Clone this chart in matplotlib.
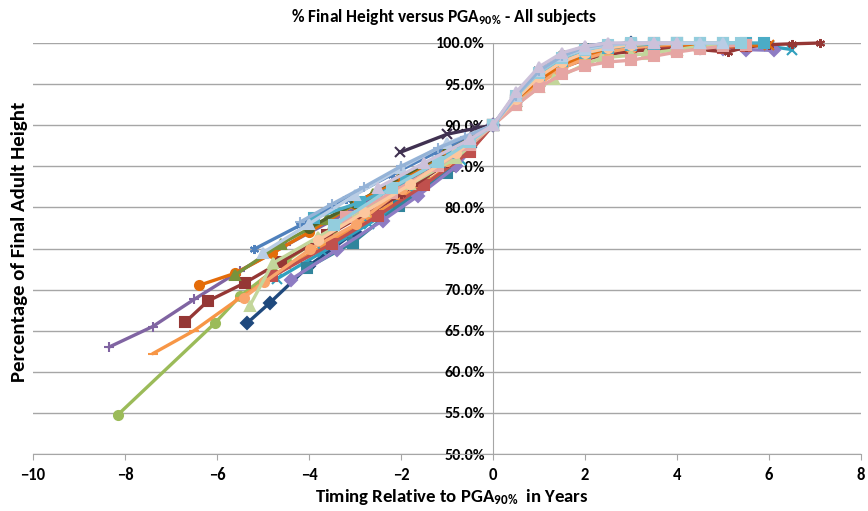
import matplotlib.pyplot as plt
from matplotlib.ticker import MultipleLocator, PercentFormatter

plt.rcParams['font.family'] = ['Carlito', 'DejaVu Sans']
plt.rcParams['font.weight'] = 'bold'
plt.rcParams['mathtext.fontset'] = 'custom'
plt.rcParams['mathtext.rm'] = 'Carlito:bold'
plt.rcParams['mathtext.it'] = 'Carlito:bold'
plt.rcParams['mathtext.bf'] = 'Carlito:bold'

# timing relative to PGA90% (years) and % of final adult height, one pair per subject
s01_t = [-5.35, -4.85, -4.0, -3.0, -2.0, -1.0, -0.5, 0, 0.5, 1, 1.5, 2, 2.5, 3]
s01_h = [65.9, 68.4, 72.9, 77.0, 81.0, 84.6, 87.3, 90, 93.0, 95.9, 97.8, 98.9, 99.6, 100]
s02_t = [-8.35, -7.4, -6.5, -5.5, -4.5, -3.5, -2.5, -1.5, -0.5, 0, 0.5, 1, 1.5, 2, 2.5, 3, 3.5, 4]
s02_h = [63.0, 65.5, 68.8, 72.3, 75.4, 78.4, 81.4, 84.2, 87.4, 90, 93.4, 96.0, 97.8, 98.9, 99.5, 99.8, 100, 100]
s03_t = [-8.15, -6.05, -5.5, -4.5, -3.5, -2.5, -1.5, -0.5, 0, 0.5, 1, 1.5, 2, 2.5, 3, 3.5]
s03_h = [54.8, 65.9, 69.2, 73.5, 77.2, 80.5, 83.8, 87.2, 90, 93.0, 95.7, 97.6, 98.8, 99.4, 99.8, 100]
s04_t = [-7.4, -6.5, -5.5, -4.5, -3.5, -2.5, -1.5, -0.5, 0, 0.5, 1, 1.5, 2, 2.5, 3, 3.5, 4, 4.5]
s04_h = [62.2, 65.0, 69.0, 72.6, 76.0, 79.4, 82.9, 86.8, 90, 92.8, 95.3, 97.2, 98.4, 99.1, 99.5, 99.8, 100, 100]
s05_t = [-6.7, -6.2, -5.4, -4.6, -3.6, -2.6, -1.6, -0.6, 0, 0.5, 1, 1.5, 2, 2.5, 3, 3.5]
s05_h = [66.0, 68.6, 70.8, 73.4, 76.6, 79.8, 83.2, 87.0, 90, 93.1, 95.8, 97.7, 98.8, 99.5, 99.9, 100]
s06_t = [-6.4, -5.6, -4.8, -4.0, -3.0, -2.0, -1.0, 0, 0.5, 1, 1.5, 2, 2.5, 3, 3.5, 4]
s06_h = [70.5, 72.0, 74.4, 77.0, 80.4, 83.6, 86.8, 90, 93.3, 96.0, 97.9, 99.0, 99.5, 99.8, 100, 100]
s07_t = [-5.6, -4.6, -3.6, -2.6, -1.6, -0.6, 0, 0.5, 1, 1.5, 2, 2.5, 3, 3.5, 4, 4.5, 5]
s07_h = [71.8, 75.6, 78.6, 81.6, 84.5, 87.8, 90, 92.9, 95.4, 97.2, 98.3, 99.0, 99.4, 99.7, 99.9, 100, 100]
s08_t = [-5.2, -4.2, -3.2, -2.2, -1.2, -0.5, 0, 0.5, 1, 1.5, 2, 2.5]
s08_h = [74.9, 77.8, 81.0, 84.0, 86.8, 88.6, 90, 93.8, 96.8, 98.6, 99.6, 100]
s09_t = [-4.7, -3.7, -2.7, -1.7, -0.7, 0, 0.5, 1, 1.5, 2, 2.5, 3, 3.5, 4, 4.5, 5, 5.5, 6, 6.5]
s09_h = [71.3, 74.6, 78.0, 81.6, 85.8, 90, 93.0, 95.6, 97.4, 98.5, 99.2, 99.6, 99.8, 100, 100, 100, 99.8, 99.6, 99.2]
s10_t = [-4.05, -3.05, -2.05, -1.0, -0.5, 0, 0.5, 1, 1.5, 2, 2.5, 3, 3.5, 4]
s10_h = [72.6, 75.7, 80.2, 84.2, 87.0, 90, 93.0, 95.5, 97.3, 98.5, 99.2, 99.6, 99.9, 100]
s11_t = [-4.4, -3.4, -2.4, -1.63, -0.8, 0, 0.5, 1, 1.5, 2, 2.5, 3, 3.5, 4, 4.5, 5, 5.5, 6.1]
s11_h = [71.2, 74.8, 78.4, 81.4, 85.0, 90, 93.0, 95.6, 97.4, 98.5, 99.2, 99.5, 99.6, 99.5, 99.4, 99.3, 99.2, 99.1]
s12_t = [-4.8, -3.5, -2.5, -1.5, -0.5, 0, 0.5, 1, 1.5, 2, 2.5, 3, 3.5, 4, 4.5, 5, 5.5]
s12_h = [71.6, 75.6, 79.0, 82.7, 86.8, 90, 93.0, 95.6, 97.3, 98.4, 99.0, 99.4, 99.5, 99.6, 99.5, 99.4, 99.6]
s13_t = [-3.0, -2.0, -1.0, 0, 0.5, 1, 1.5, 2, 2.5, 3, 3.5, 4, 4.5, 5.1, 5.5, 6, 6.5, 7.1]
s13_h = [78.2, 81.6, 85.4, 90, 92.8, 95.2, 97.0, 98.0, 98.6, 99.0, 99.2, 99.3, 99.2, 98.9, 99.5, 99.8, 99.9, 100]
s14_t = [-4.0, -3.0, -2.0, -1.0, 0, 0.5, 1, 1.5, 2, 2.5, 3]
s14_h = [77.5, 80.5, 83.6, 86.8, 90, 93.5, 96.6, 98.5, 99.4, 99.8, 100]
s15_t = [-2.02, -1.0, -0.4, 0, 0.5, 1, 1.5, 2, 2.5, 3]
s15_h = [86.7, 88.9, 89.6, 90, 93.6, 96.5, 98.2, 99.2, 99.8, 100]
s16_t = [-3.0, -2.0, -1.0, 0, 0.5, 1, 1.5, 2, 2.5, 3, 3.5, 4, 4.5, 5, 5.5, 6]
s16_h = [80.6, 83.2, 86.3, 90, 92.9, 95.5, 97.3, 98.4, 99.1, 99.5, 99.7, 99.8, 99.7, 99.6, 99.7, 99.8]
s17_t = [-5.42, -4.97, -3.98, -2.97, -1.98, -1.0, -0.5, 0, 0.5, 1, 1.5, 2, 2.5, 3, 3.5, 4, 4.5, 5]
s17_h = [69.0, 70.9, 74.9, 78.0, 82.2, 85.7, 87.8, 90, 92.6, 95.0, 96.9, 98.1, 98.9, 99.4, 99.7, 99.9, 100, 100]
s18_t = [-5.29, -4.79, -3.8, -2.8, -1.8, -0.8, 0, 0.5, 1, 1.33, 2, 2.37, 3, 3.33, 4, 4.5, 5]
s18_h = [68.0, 73.2, 76.4, 79.6, 82.8, 86.0, 90, 92.5, 94.6, 95.6, 97.4, 98.2, 98.5, 98.7, 99.2, 99.6, 99.9]
s19_t = [-3.9, -2.9, -1.9, -0.9, 0, 0.5, 1, 1.5, 2, 2.5, 3, 3.5, 4, 4.5, 5, 5.5, 5.9]
s19_h = [78.7, 80.6, 83.2, 86.6, 90, 93.2, 96.0, 97.8, 98.8, 99.4, 99.7, 99.9, 100, 100, 100, 100, 100]
s20_t = [-3.2, -2.2, -1.2, -0.5, 0, 0.5, 1, 1.5, 2, 2.5, 3, 3.5, 4, 4.5, 5, 5.5]
s20_h = [78.8, 81.8, 85.0, 87.6, 90, 92.4, 94.6, 96.2, 97.2, 97.7, 97.9, 98.4, 98.9, 99.3, 99.6, 99.8]
s21_t = [-3.8, -2.8, -1.8, -0.8, 0, 0.5, 1, 1.5, 2, 2.5, 3, 3.5, 4, 4.5, 5]
s21_h = [76.0, 79.4, 82.8, 86.6, 90, 93.2, 95.9, 97.7, 98.8, 99.4, 99.8, 100, 100, 100, 100]
s22_t = [-3.45, -2.2, -1.2, -0.5, 0, 0.5, 1, 1.5, 2, 2.5, 3, 3.5, 4, 4.5, 5, 5.4]
s22_h = [77.8, 82.4, 85.5, 88.0, 90, 93.5, 96.4, 98.2, 99.2, 99.7, 100, 100, 100, 100, 100, 100]
s23_t = [-5.0, -4.0, -3.0, -2.0, -1.0, 0, 0.5, 1, 1.5, 2, 2.5, 3, 3.5, 4, 4.5, 5]
s23_h = [74.5, 78.0, 81.5, 84.8, 87.8, 90, 93.6, 96.6, 98.4, 99.3, 99.8, 100, 100, 100, 100, 100]
s24_t = [-4.2, -3.5, -2.8, -2.0, -1.2, -0.6, 0, 0.5, 1, 1.5, 2, 2.5, 3]
s24_h = [78.2, 80.4, 82.5, 85.0, 87.2, 88.6, 90, 93.6, 96.6, 98.4, 99.5, 99.9, 100]
s25_t = [-2.5, -1.5, -0.5, 0, 0.5, 1, 1.5, 2, 2.5, 3, 3.5, 4]
s25_h = [82.4, 85.4, 88.3, 90, 94.0, 97.1, 98.8, 99.6, 100, 100, 100, 100]

timing = [s01_t, s02_t, s03_t, s04_t, s05_t, s06_t, s07_t, s08_t, s09_t, s10_t, s11_t, s12_t, s13_t,
          s14_t, s15_t, s16_t, s17_t, s18_t, s19_t, s20_t, s21_t, s22_t, s23_t, s24_t, s25_t]
height = [s01_h, s02_h, s03_h, s04_h, s05_h, s06_h, s07_h, s08_h, s09_h, s10_h, s11_h, s12_h, s13_h,
          s14_h, s15_h, s16_h, s17_h, s18_h, s19_h, s20_h, s21_h, s22_h, s23_h, s24_h, s25_h]

star = (6, 2, 0)
colors = ['#1F497D', '#8064A2', '#9BBB59', '#F79646', '#953735', '#E46C0A', '#77933C', '#4F81BD',
          '#31A0BE', '#31859C', '#8E7CC3', '#C0504D', '#953735', '#4F6228', '#403151', '#E46C0A',
          '#F9A56B', '#C3D69B', '#4BACC6', '#E6A5A3', '#FCC79E', '#93CDDD', '#B9CDE5', '#95B3D7',
          '#CCC1DA']
markers = ['D', '+', 'o', '_', 's', 'o', '^', star, 'x', 's', 'D', 's', star, 'o', 'x', 'x',
           'o', '^', 's', 's', 'o', 's', '^', '+', '^']

fig = plt.figure(figsize=(8.68, 5.11), dpi=100)
ax = fig.add_axes([33 / 868, 57 / 511, 828 / 868, 411 / 511])

for t, h, c, m in zip(timing, height, colors, markers):
    ax.plot(t, h, color=c, lw=2.4, marker=m, ms=6.5, mew=1.5, clip_on=False, zorder=3,
            solid_capstyle='round', solid_joinstyle='round')

ax.set_xlim(-10, 8)
ax.set_ylim(50, 100)
ax.xaxis.set_major_locator(MultipleLocator(2))
ax.yaxis.set_major_locator(MultipleLocator(5))
ax.yaxis.set_major_formatter(PercentFormatter(decimals=1))
ax.grid(axis='y', color='#A6A6A6', lw=1)
ax.set_axisbelow(True)

for s in ['top', 'right']:
    ax.spines[s].set_visible(False)
ax.spines['left'].set_position(('data', 0))
ax.spines['left'].set_color('#A6A6A6')
ax.spines['bottom'].set_color('#A6A6A6')
ax.tick_params(axis='y', length=0, pad=6, labelsize=11.5)
ax.tick_params(axis='x', length=4, color='#A6A6A6', pad=5, labelsize=12)

fig.text(0.511, 0.967, '% Final Height versus PGA$_{90\\%}$ - All subjects',
         ha='center', va='center', fontsize=12.5)
fig.text(0.023, 0.527, 'Percentage of Final Adult Height', rotation=90,
         ha='center', va='center', fontsize=15)
fig.text(0.52, 0.027, 'Timing Relative to PGA$_{90\\%}$  in Years',
         ha='center', va='center', fontsize=13.5)

plt.savefig('out.png', dpi=100)
